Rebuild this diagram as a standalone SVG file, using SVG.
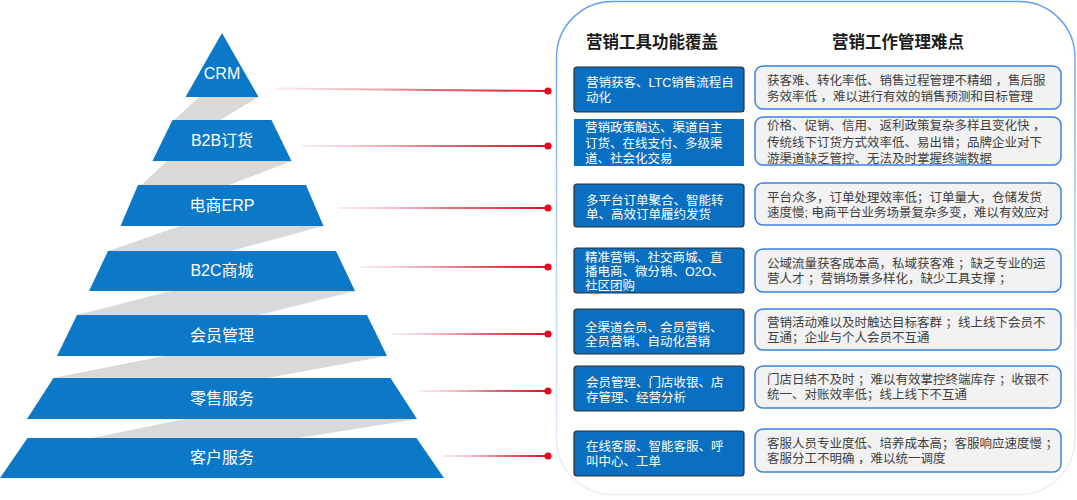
<svg xmlns="http://www.w3.org/2000/svg" width="1077" height="500" viewBox="0 0 1077 500">
<defs>
<linearGradient id="redline" x1="0" y1="0" x2="1" y2="0">
<stop offset="0" stop-color="#f4c4ca" stop-opacity="0.35"/>
<stop offset="0.55" stop-color="#e0707e"/>
<stop offset="1" stop-color="#dc0f22"/>
</linearGradient>
<linearGradient id="panelStroke" x1="0" y1="0" x2="0" y2="1">
<stop offset="0" stop-color="#5d9cef"/>
<stop offset="0.5" stop-color="#b7cff3"/>
<stop offset="1" stop-color="#eef0f9"/>
</linearGradient>
<style>
.tier{fill:#0b78c8}
.shade{fill:#d9d9d9}
.tt{fill:#ffffff;font-family:"Liberation Sans","Noto Sans CJK SC",sans-serif;font-size:16px;text-anchor:middle}
.hd{fill:#1a1a1a;font-family:"Noto Sans CJK SC",sans-serif;font-size:16.5px;font-weight:bold}
.bb{fill:#0a6fc0;stroke:#2e2e2e;stroke-width:1.2}
.bbn{fill:#0a6fc0}
.bt{fill:#ffffff;font-family:"Liberation Sans","Noto Sans CJK SC",sans-serif;font-size:12.5px}
.gb{fill:#f2f2f2;stroke:#3f7fdc;stroke-width:1.5}
.gt{fill:#404040;font-family:"Liberation Sans","Noto Sans CJK SC",sans-serif;font-size:12.5px}
.dot{fill:#e20a1c}
.ln{fill:url(#redline)}
</style>
</defs>
<rect width="1077" height="500" fill="#ffffff"/>

<g id="panel">
<rect x="556.5" y="1.5" width="518.5" height="493" rx="56" fill="#ffffff" stroke="url(#panelStroke)" stroke-width="1.5"/>
<text class="hd" x="586" y="48">营销工具功能覆盖</text>
<text class="hd" x="832" y="48">营销工作管理难点</text>
</g>

<g id="pyramid-shading">
<polygon class="shade" points="199,97 258.5,97 220,120 174,120"/>
<polygon class="shade" points="167,161 291.5,161 229,185 141.5,185"/>
<polygon class="shade" points="180,226 323.5,226 231,251 108.5,251"/>
<polygon class="shade" points="171,291 355,291 259,315 77,315"/>
<polygon class="shade" points="164,356 387,356 267,378 53,378"/>
<polygon class="shade" points="185,419 417,419 299,438 92,438"/>
</g>

<g id="tier-crm">
<polygon class="tier" points="222,33 258.5,97 185.5,97"/>
<text class="tt" x="222" y="79">CRM</text>
</g>
<g id="tier-b2b">
<polygon class="tier" points="172.5,120 271.5,120 291.5,161 152.5,161"/>
<text class="tt" x="222" y="146">B2B订货</text>
</g>
<g id="tier-erp">
<polygon class="tier" points="138,185 306,185 323.5,226 120.5,226"/>
<text class="tt" x="222" y="211">电商ERP</text>
</g>
<g id="tier-b2c">
<polygon class="tier" points="108,251 336,251 355,291 89,291"/>
<text class="tt" x="222" y="276">B2C商城</text>
</g>
<g id="tier-member">
<polygon class="tier" points="77,315 367,315 387,356 57,356"/>
<text class="tt" x="222" y="341">会员管理</text>
</g>
<g id="tier-retail">
<polygon class="tier" points="53.5,378 390.5,378 417,419 27,419"/>
<text class="tt" x="222" y="404">零售服务</text>
</g>
<g id="tier-service">
<polygon class="tier" points="27.5,438 416.5,438 444,478 0,478"/>
<text class="tt" x="222" y="463">客户服务</text>
</g>

<g id="connectors">
<polygon class="ln" points="276,87.6 548,90 548,92 276,89.4"/>
<rect class="ln" x="302" y="145" width="246" height="2"/>
<rect class="ln" x="338" y="207" width="210" height="2"/>
<rect class="ln" x="361" y="266" width="187" height="2"/>
<rect class="ln" x="391" y="333" width="157" height="2"/>
<rect class="ln" x="420" y="390" width="128" height="2"/>
<rect class="ln" x="443" y="455" width="105" height="2"/>
<circle class="dot" cx="548" cy="91" r="3.6"/>
<circle class="dot" cx="548" cy="146" r="3.6"/>
<circle class="dot" cx="548" cy="208" r="3.6"/>
<circle class="dot" cx="548" cy="267" r="3.6"/>
<circle class="dot" cx="548" cy="334" r="3.6"/>
<circle class="dot" cx="548" cy="391" r="3.6"/>
<circle class="dot" cx="548" cy="456" r="3.6"/>
</g>

<g id="tool-1">
<rect class="bb" x="574" y="67" width="170" height="45" rx="3"/>
<text class="bt" x="586" y="86.5">营销获客、LTC销售流程自</text>
<text class="bt" x="586" y="101.5">动化</text>
</g>
<g id="tool-2">
<rect class="bbn" x="574" y="119" width="170" height="47"/>
<text class="bt" x="585" y="131.5">营销政策触达、渠道自主</text>
<text class="bt" x="585" y="147.5">订货、在线支付、多级渠</text>
<text class="bt" x="585" y="162.5">道、社会化交易</text>
</g>
<g id="tool-3">
<rect class="bb" x="574" y="184" width="170" height="43" rx="3"/>
<text class="bt" x="586" y="204.5">多平台订单聚合、智能转</text>
<text class="bt" x="586" y="218.5">单、高效订单履约发货</text>
</g>
<g id="tool-4">
<rect class="bb" x="574" y="248" width="170" height="45" rx="3"/>
<text class="bt" x="585" y="261.5">精准营销、社交商城、直</text>
<text class="bt" x="585" y="275.5">播电商、微分销、O2O、</text>
<text class="bt" x="585" y="289.5">社区团购</text>
</g>
<g id="tool-5">
<rect class="bb" x="574" y="309" width="170" height="45" rx="3"/>
<text class="bt" x="585" y="331.5">全渠道会员、会员营销、</text>
<text class="bt" x="585" y="345.5">全员营销、自动化营销</text>
</g>
<g id="tool-6">
<rect class="bb" x="574" y="366" width="170" height="45" rx="3"/>
<text class="bt" x="586" y="386.5">会员管理、门店收银、店</text>
<text class="bt" x="586" y="401.5">存管理、经营分析</text>
</g>
<g id="tool-7">
<rect class="bb" x="574" y="431" width="170" height="45" rx="3"/>
<text class="bt" x="586" y="450.5">在线客服、智能客服、呼</text>
<text class="bt" x="586" y="465.5">叫中心、工单</text>
</g>

<g id="issue-1">
<rect class="gb" x="755" y="66" width="306" height="43" rx="8"/>
<text class="gt" x="767" y="84.5">获客难、转化率低、销售过程管理不精细 ，售后服</text>
<text class="gt" x="767" y="100.5">务效率低 ，难以进行有效的销售预测和目标管理</text>
</g>
<g id="issue-2">
<rect class="gb" x="755" y="117" width="306" height="48" rx="8"/>
<text class="gt" x="767" y="129.5">价格、促销、信用、返利政策复杂多样且变化快 ，</text>
<text class="gt" x="767" y="146.5">传统线下订货方式效率低、易出错；品牌企业对下</text>
<text class="gt" x="767" y="162.5">游渠道缺乏管控、无法及时掌握终端数据</text>
</g>
<g id="issue-3">
<rect class="gb" x="755" y="183" width="306" height="42" rx="8"/>
<text class="gt" x="767" y="201.5">平台众多，订单处理效率低；订单量大，仓储发货</text>
<text class="gt" x="767" y="216.5">速度慢; 电商平台业务场景复杂多变，难以有效应对</text>
</g>
<g id="issue-4">
<rect class="gb" x="755" y="249" width="306" height="43" rx="8"/>
<text class="gt" x="767" y="267.5">公域流量获客成本高，私域获客难 ；缺乏专业的运</text>
<text class="gt" x="767" y="282.5">营人才 ；营销场景多样化，缺少工具支撑 ；</text>
</g>
<g id="issue-5">
<rect class="gb" x="755" y="309" width="306" height="41" rx="8"/>
<text class="gt" x="767" y="326.5">营销活动难以及时触达目标客群 ；线上线下会员不</text>
<text class="gt" x="767" y="341.5">互通；企业与个人会员不互通</text>
</g>
<g id="issue-6">
<rect class="gb" x="755" y="366" width="306" height="42" rx="8"/>
<text class="gt" x="767" y="383.5">门店日结不及时 ；难以有效掌控终端库存 ；收银不</text>
<text class="gt" x="767" y="398.5">统一、对账效率低；线上线下不互通</text>
</g>
<g id="issue-7">
<rect class="gb" x="755" y="429" width="306" height="43" rx="8"/>
<text class="gt" x="767" y="447.5">客服人员专业度低、培养成本高；客服响应速度慢 ；</text>
<text class="gt" x="767" y="462.5">客服分工不明确 ，难以统一调度</text>
</g>
</svg>
